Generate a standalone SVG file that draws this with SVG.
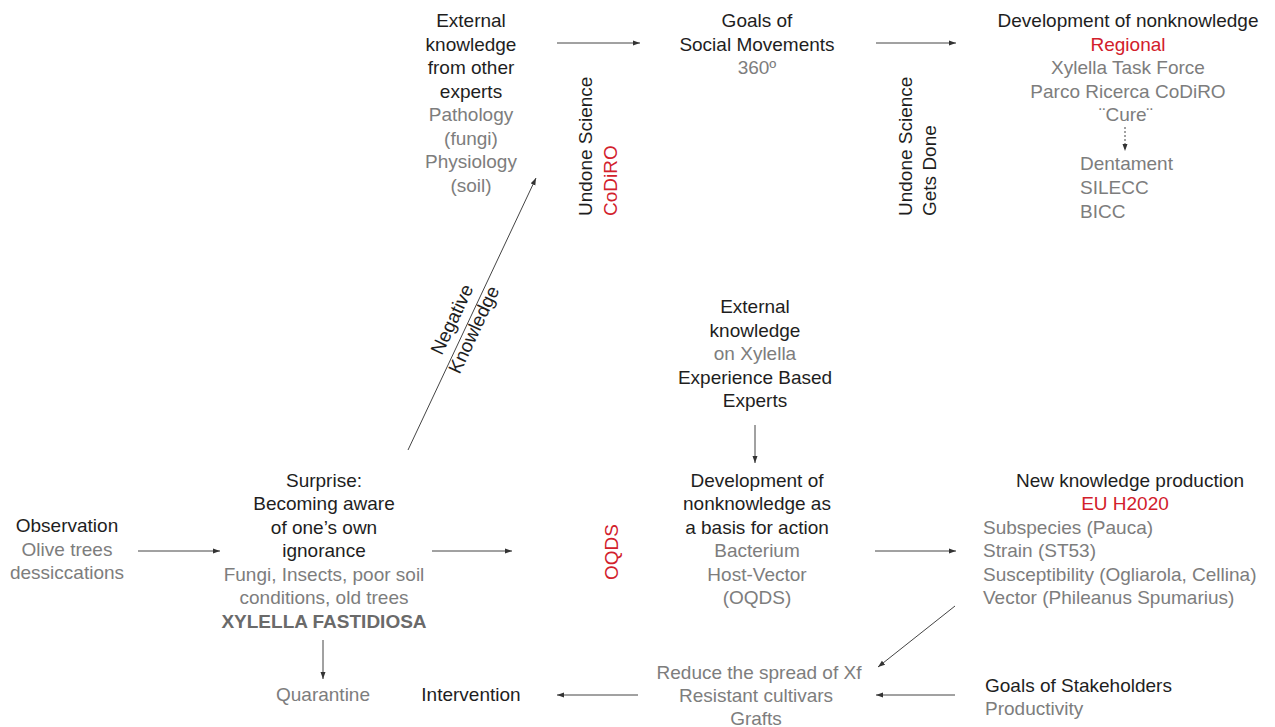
<svg xmlns="http://www.w3.org/2000/svg" width="1275" height="727" viewBox="0 0 1275 727">
<style>
text{font-family:"Liberation Sans",Arial,Helvetica,sans-serif;font-size:19px;fill:#1e1e1e}
.c{text-anchor:middle}
.g{fill:#7d7d7d}
.r{fill:#d2202b}
.b{font-weight:bold;fill:#6a6a6a}
.ln{stroke:#444;stroke-width:1;fill:none}
</style>
<defs>
<marker id="ah" markerUnits="userSpaceOnUse" markerWidth="8" markerHeight="6" refX="7" refY="3" orient="auto">
<path d="M0,0.5 L7,3 L0,5.5 z" fill="#333"/>
</marker>
</defs>
<rect width="1275" height="727" fill="#ffffff"/>
<g transform="translate(0,-2)">
<g id="connectors">
<line class="ln" x1="557" y1="45" x2="640" y2="45" marker-end="url(#ah)"/>
<line class="ln" x1="876" y1="45" x2="956" y2="45" marker-end="url(#ah)"/>
<line class="ln" x1="1125" y1="129" x2="1125" y2="153" stroke-dasharray="2,2" marker-end="url(#ah)"/>
<line class="ln" x1="408" y1="452" x2="536" y2="180" marker-end="url(#ah)"/>
<line class="ln" x1="138" y1="553" x2="220" y2="553" marker-end="url(#ah)"/>
<line class="ln" x1="432" y1="553" x2="512" y2="553" marker-end="url(#ah)"/>
<line class="ln" x1="755" y1="427" x2="755" y2="465" marker-end="url(#ah)"/>
<line class="ln" x1="875" y1="553" x2="956" y2="553" marker-end="url(#ah)"/>
<line class="ln" x1="955" y1="608" x2="878" y2="669" marker-end="url(#ah)"/>
<line class="ln" x1="955" y1="697" x2="876" y2="697" marker-end="url(#ah)"/>
<line class="ln" x1="638" y1="697" x2="557" y2="697" marker-end="url(#ah)"/>
<line class="ln" x1="323" y1="642" x2="323" y2="681" marker-end="url(#ah)"/>
</g>

<g id="external-knowledge-experts">
<text class="c" x="471" y="29">External</text>
<text class="c" x="471" y="52.5">knowledge</text>
<text class="c" x="471" y="76">from other</text>
<text class="c" x="471" y="99.5">experts</text>
<text class="c g" x="471" y="123">Pathology</text>
<text class="c g" x="471" y="146.5">(fungi)</text>
<text class="c g" x="471" y="170">Physiology</text>
<text class="c g" x="471" y="193.5">(soil)</text>
</g>

<g id="undone-science">
<text transform="translate(592,218) rotate(-90)">Undone Science</text>
<text class="r" transform="translate(617,218) rotate(-90)">CoDiRO</text>
</g>

<g id="goals-social-movements">
<text class="c" x="757" y="29">Goals of</text>
<text class="c" x="757" y="52.5">Social Movements</text>
<text class="c g" x="757" y="76">360º</text>
</g>

<g id="undone-science-done">
<text transform="translate(912,218) rotate(-90)">Undone Science</text>
<text transform="translate(936,218) rotate(-90)">Gets Done</text>
</g>

<g id="development-nonknowledge-regional">
<text class="c" x="1128" y="29">Development of nonknowledge</text>
<text class="c r" x="1128" y="52.5">Regional</text>
<text class="c g" x="1128" y="76">Xylella Task Force</text>
<text class="c g" x="1128" y="99.5">Parco Ricerca CoDiRO</text>
<text class="c g" x="1126" y="123">¨Cure¨</text>
<text class="g" x="1080" y="171.5">Dentament</text>
<text class="g" x="1080" y="195.5">SILECC</text>
<text class="g" x="1080" y="219.5">BICC</text>
</g>

<g id="negative-knowledge">
<g transform="translate(466,328) rotate(-64.7)">
<text class="c" x="0" y="-9">Negative</text>
<text class="c" x="0" y="15">Knowledge</text>
</g>
</g>

<g id="external-knowledge-xylella">
<text class="c" x="755" y="315">External</text>
<text class="c" x="755" y="338.5">knowledge</text>
<text class="c g" x="755" y="362">on Xylella</text>
<text class="c" x="755" y="385.5">Experience Based</text>
<text class="c" x="755" y="409">Experts</text>
</g>

<g id="observation">
<text class="c" x="67" y="534">Observation</text>
<text class="c g" x="67" y="557.5">Olive trees</text>
<text class="c g" x="67" y="581">dessiccations</text>
</g>

<g id="surprise">
<text class="c" x="324" y="488.5">Surprise:</text>
<text class="c" x="324" y="512">Becoming aware</text>
<text class="c" x="324" y="535.5">of one’s own</text>
<text class="c" x="324" y="559">ignorance</text>
<text class="c g" x="324" y="582.5">Fungi, Insects, poor soil</text>
<text class="c g" x="324" y="606">conditions, old trees</text>
<text class="c b" x="324" y="629.5">XYLELLA FASTIDIOSA</text>
</g>

<g id="oqds">
<text class="r" transform="translate(618,582) rotate(-90)">OQDS</text>
</g>

<g id="development-nonknowledge-action">
<text class="c" x="757" y="488.5">Development of</text>
<text class="c" x="757" y="512">nonknowledge as</text>
<text class="c" x="757" y="535.5">a basis for action</text>
<text class="c g" x="757" y="559">Bacterium</text>
<text class="c g" x="757" y="582.5">Host-Vector</text>
<text class="c g" x="757" y="606">(OQDS)</text>
</g>

<g id="new-knowledge-production">
<text class="c" x="1130" y="488.5">New knowledge production</text>
<text class="c r" x="1125" y="512">EU H2020</text>
<text class="g" x="983" y="535.5">Subspecies (Pauca)</text>
<text class="g" x="983" y="559">Strain (ST53)</text>
<text class="g" x="983" y="582.5">Susceptibility (Ogliarola, Cellina)</text>
<text class="g" x="983" y="606">Vector (Phileanus Spumarius)</text>
</g>

<g id="quarantine">
<text class="c g" x="323" y="703">Quarantine</text>
</g>

<g id="intervention">
<text class="c" x="471" y="703">Intervention</text>
</g>

<g id="reduce-spread">
<text class="c g" x="759" y="680.5">Reduce the spread of Xf</text>
<text class="c g" x="756" y="703.5">Resistant cultivars</text>
<text class="c g" x="756" y="727">Grafts</text>
</g>

<g id="goals-stakeholders">
<text x="985" y="694">Goals of Stakeholders</text>
<text class="g" x="985" y="716.5">Productivity</text>
</g>
</g>
</svg>
